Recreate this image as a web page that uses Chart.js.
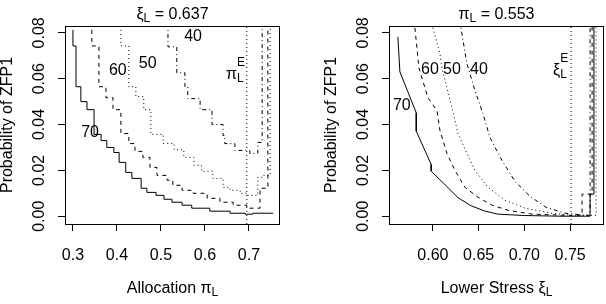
<!DOCTYPE html>
<html lang="en">
<head>
<meta charset="UTF-8">
<title>ZFP1</title>
<script src="https://cdn.jsdelivr.net/npm/chart.js"></script>
<style>
  body { margin:0; background:#fff; }
  #wrap { position:relative; width:606px; height:304px; overflow:hidden; }
  .panel { position:absolute; top:0; width:303px; height:304px; }
</style>
</head>
<body>
<div id="wrap">
  <div class="panel" style="left:0"><canvas id="leftChart" width="303" height="304"></canvas></div>
  <div class="panel" style="left:303px"><canvas id="rightChart" width="303" height="304"></canvas></div>
</div>
<script>
// tick values / labels
const probTicks = [0, 0.02, 0.04, 0.06, 0.08];
const probLabels = ['0.00', '0.02', '0.04', '0.06', '0.08'];
const allocTicks = [0.3, 0.4, 0.5, 0.6, 0.7];
const allocLabels = ['0.3', '0.4', '0.5', '0.6', '0.7'];
const stressTicks = [0.60, 0.65, 0.70, 0.75];
const stressLabels = ['0.60', '0.65', '0.70', '0.75'];
const levels = ['70', '60', '50', '40'];

// fixed values shown in the titles, and the E reference lines
const xiFixed = '0.637';
const piFixed = '0.553';
const piE = 0.695;
const xiE = 0.751;

// left panel: probability vs allocation pi_L (step curves)
const alloc70 = [[0.300,0.0813],[0.307,0.0743],[0.318,0.0565],[0.332,0.0500],[0.348,0.0465],[0.364,0.0357],[0.377,0.0330],[0.393,0.0300],[0.405,0.0278],[0.420,0.0235],[0.434,0.0191],[0.455,0.0165],[0.468,0.0122],[0.489,0.0104],[0.507,0.0091],[0.525,0.0074],[0.548,0.0061],[0.570,0.0048],[0.611,0.0035],[0.657,0.0022],[0.691,0.0013],[0.709,0.0009],[0.736,0.0013],[0.755,0.0013]];
const alloc60 = [[0.343,0.0813],[0.359,0.0743],[0.375,0.0565],[0.391,0.0517],[0.409,0.0465],[0.427,0.0361],[0.441,0.0317],[0.459,0.0283],[0.475,0.0257],[0.491,0.0213],[0.514,0.0178],[0.527,0.0157],[0.548,0.0135],[0.573,0.0113],[0.605,0.0100],[0.634,0.0078],[0.664,0.0061],[0.695,0.0048],[0.725,0.0035],[0.743,0.0122],[0.748,0.083]];
const alloc50 = [[0.409,0.0813],[0.427,0.0743],[0.443,0.0565],[0.461,0.0522],[0.477,0.0465],[0.505,0.0357],[0.530,0.0317],[0.552,0.0290],[0.575,0.0257],[0.592,0.0222],[0.618,0.0196],[0.641,0.0165],[0.657,0.0126],[0.680,0.0113],[0.697,0.0100],[0.720,0.0091],[0.730,0.0170],[0.748,0.0178],[0.755,0.083]];
const alloc40 = [[0.516,0.0813],[0.536,0.0739],[0.5545,0.0626],[0.561,0.0565],[0.589,0.0513],[0.616,0.0465],[0.641,0.0400],[0.645,0.0352],[0.668,0.0317],[0.702,0.0287],[0.720,0.0274],[0.730,0.0322],[0.741,0.083]];

// right panel: probability vs lower stress xi_L
const stress70 = [[0.5617,0.0783],[0.5639,0.0630],[0.5726,0.0543],[0.5818,0.0451],[0.5818,0.0371],[0.5981,0.0226],[0.5981,0.0197],[0.6146,0.0132],[0.6274,0.0081],[0.6419,0.0045],[0.6565,0.0023],[0.671,0.0009],[0.70,0.0003],[0.74,0.0],[0.7718,0.0],[0.7718,0.0096],[0.776,0.0096],[0.776,0.083]];
const stress60 = [[0.5803,0.0822],[0.5847,0.0648],[0.5945,0.0517],[0.6044,0.0461],[0.6077,0.0374],[0.6153,0.0274],[0.6241,0.0200],[0.635,0.0126],[0.6492,0.0083],[0.6646,0.0048],[0.6821,0.0026],[0.7083,0.0009],[0.7444,0.0004],[0.763,0.0004],[0.763,0.0096],[0.774,0.0096],[0.774,0.083]];
const stress50 = [[0.600,0.0822],[0.6077,0.0709],[0.6098,0.0648],[0.6208,0.0474],[0.6274,0.0361],[0.6372,0.0274],[0.646,0.0200],[0.6602,0.0126],[0.6788,0.0070],[0.7007,0.0035],[0.7302,0.0013],[0.75,0.0004],[0.7783,0.0004],[0.7783,0.083]];
const stress40 = [[0.6306,0.0822],[0.6372,0.0665],[0.646,0.0548],[0.6547,0.0448],[0.6624,0.0343],[0.6755,0.0243],[0.6897,0.0152],[0.7061,0.0087],[0.7236,0.0039],[0.7444,0.0013],[0.7663,0.0004],[0.7718,0.0004],[0.7718,0.083]];

// where the level labels sit (data coords)
const allocLabelPos = [[0.339,0.0365],[0.402,0.0635],[0.470,0.0665],[0.573,0.0783]];
const stressLabelPos = [[0.566,0.0483],[0.5967,0.0639],[0.6208,0.0639],[0.6503,0.0639]];

const FONT = '"Liberation Sans", Arial, Helvetica, sans-serif';
const BIG = 16, SMALL = 12;
const yMin = -0.0034, yMax = 0.083;
const dashes = [[], [4, 4], [1, 3], [1, 3, 4, 3]];

// draws text with sub/superscripts, parts: {t, s} s=-1 sub, s=1 sup, or {stack:[sup,sub]}
function rich(ctx, parts, x, y, align) {
    const ws = parts.map(p => {
        if (p.stack) {
            ctx.font = SMALL + 'px ' + FONT;
            return Math.max(ctx.measureText(p.stack[0]).width, ctx.measureText(p.stack[1]).width);
        }
        ctx.font = (p.s ? SMALL : BIG) + 'px ' + FONT;
        return ctx.measureText(p.t).width;
    });
    const total = ws.reduce((a, b) => a + b, 0);
    let cx = align === 'center' ? x - total / 2 : x;
    ctx.textAlign = 'left';
    ctx.textBaseline = 'alphabetic';
    parts.forEach((p, i) => {
        if (p.stack) {
            ctx.font = SMALL + 'px ' + FONT;
            ctx.fillText(p.stack[0], cx, y - 13);
            ctx.fillText(p.stack[1], cx, y + 3);
        } else {
            ctx.font = (p.s ? SMALL : BIG) + 'px ' + FONT;
            ctx.fillText(p.t, cx, y + (p.s === -1 ? 3 : p.s === 1 ? -8 : 0));
        }
        cx += ws[i];
    });
}

function makePanel(id, cfg) {
    const datasets = cfg.curves.map((c, i) => ({
        data: c.map(p => ({x: p[0], y: p[1]})),
        borderColor: '#000',
        borderWidth: 1,
        borderDash: dashes[i],
        pointRadius: 0,
        stepped: cfg.stepped ? 'after' : false,
        tension: 0,
        fill: false
    }));
    // dotted E reference line
    datasets.push({
        data: [{x: cfg.refX, y: yMin}, {x: cfg.refX, y: yMax}],
        borderColor: '#000', borderWidth: 1, borderDash: [1, 3],
        pointRadius: 0, fill: false
    });

    const textPlugin = {
        id: 'rtext',
        afterDraw(chart) {
            const ctx = chart.ctx;
            const a = chart.chartArea;
            const sx = chart.scales.x, sy = chart.scales.y;
            ctx.save();
            ctx.strokeStyle = '#000';
            ctx.lineWidth = 1;
            ctx.strokeRect(Math.round(a.left) + 0.5, Math.round(a.top) + 0.5,
                Math.round(a.right - a.left) - 1, Math.round(a.bottom - a.top));
            ctx.fillStyle = '#000';
            const mid = (a.left + a.right) / 2;
            rich(ctx, cfg.title, mid, 19, 'center');
            rich(ctx, cfg.xTitle, mid, 293, 'center');
            // y title
            ctx.save();
            ctx.translate(a.left - 53, (a.top + a.bottom) / 2);
            ctx.rotate(-Math.PI / 2);
            ctx.font = BIG + 'px ' + FONT;
            ctx.textAlign = 'center';
            ctx.textBaseline = 'alphabetic';
            ctx.fillText('Probability of ZFP1', 0, 0);
            ctx.restore();
            // level labels
            ctx.font = BIG + 'px ' + FONT;
            ctx.textAlign = 'center';
            ctx.textBaseline = 'middle';
            levels.forEach((l, i) => {
                const p = cfg.labelPos[i];
                ctx.fillText(l, sx.getPixelForValue(p[0]), sy.getPixelForValue(p[1]));
            });
            rich(ctx, cfg.refLabel, sx.getPixelForValue(cfg.refLabelPos[0]), sy.getPixelForValue(cfg.refLabelPos[1]), 'left');
            ctx.restore();
        }
    };

    return new Chart(document.getElementById(id), {
        type: 'line',
        data: {datasets},
        options: {
            responsive: false,
            devicePixelRatio: 1,
            animation: false,
            layout: {padding: {top: 26, right: cfg.padRight, left: 0, bottom: 0}},
            plugins: {legend: {display: false}, tooltip: {enabled: false}},
            scales: {
                x: {
                    type: 'linear',
                    min: cfg.xMin, max: cfg.xMax,
                    afterBuildTicks: s => { s.ticks = cfg.xTicks.map(v => ({value: v})); },
                    afterFit: s => { s.height = 80; },
                    ticks: {
                        autoSkip: false, maxRotation: 0, padding: 15, color: '#000',
                        font: {family: FONT, size: BIG},
                        callback: v => cfg.xLabels[cfg.xTicks.findIndex(t => Math.abs(t - v) < 1e-9)]
                    },
                    grid: {drawOnChartArea: false, drawTicks: true, tickLength: 7, color: '#000'},
                    border: {display: false}
                },
                y: {
                    type: 'linear',
                    min: yMin, max: yMax,
                    afterBuildTicks: s => { s.ticks = probTicks.map(v => ({value: v})); },
                    afterFit: s => { s.width = cfg.yWidth; },
                    ticks: {
                        minRotation: 90, maxRotation: 90, crossAlign: 'center', padding: 3,
                        color: '#000', font: {family: FONT, size: BIG},
                        callback: v => probLabels[probTicks.findIndex(t => Math.abs(t - v) < 1e-9)]
                    },
                    grid: {drawOnChartArea: false, drawTicks: true, tickLength: 7, color: '#000'},
                    border: {display: false}
                }
            }
        },
        plugins: [textPlugin]
    });
}

makePanel('leftChart', {
    curves: [alloc70, alloc60, alloc50, alloc40],
    stepped: true,
    refX: piE,
    xMin: 0.282, xMax: 0.7705,
    xTicks: allocTicks, xLabels: allocLabels,
    yWidth: 65, padRight: 23,
    title: [{t: 'ξ'}, {t: 'L', s: -1}, {t: ' = ' + xiFixed}],
    xTitle: [{t: 'Allocation π'}, {t: 'L', s: -1}],
    labelPos: allocLabelPos,
    refLabel: [{t: 'π'}, {stack: ['E', 'L']}],
    refLabelPos: [0.6477, 0.060]
});

makePanel('rightChart', {
    curves: [stress70, stress60, stress50, stress40],
    stepped: false,
    refX: xiE,
    xMin: 0.552, xMax: 0.787,
    xTicks: stressTicks, xLabels: stressLabels,
    yWidth: 86, padRight: 2,
    title: [{t: 'π'}, {t: 'L', s: -1}, {t: ' = ' + piFixed}],
    xTitle: [{t: 'Lower Stress ξ'}, {t: 'L', s: -1}],
    labelPos: stressLabelPos,
    refLabel: [{t: 'ξ'}, {stack: ['E', 'L']}],
    refLabelPos: [0.7313, 0.0617]
});
</script>
</body>
</html>
